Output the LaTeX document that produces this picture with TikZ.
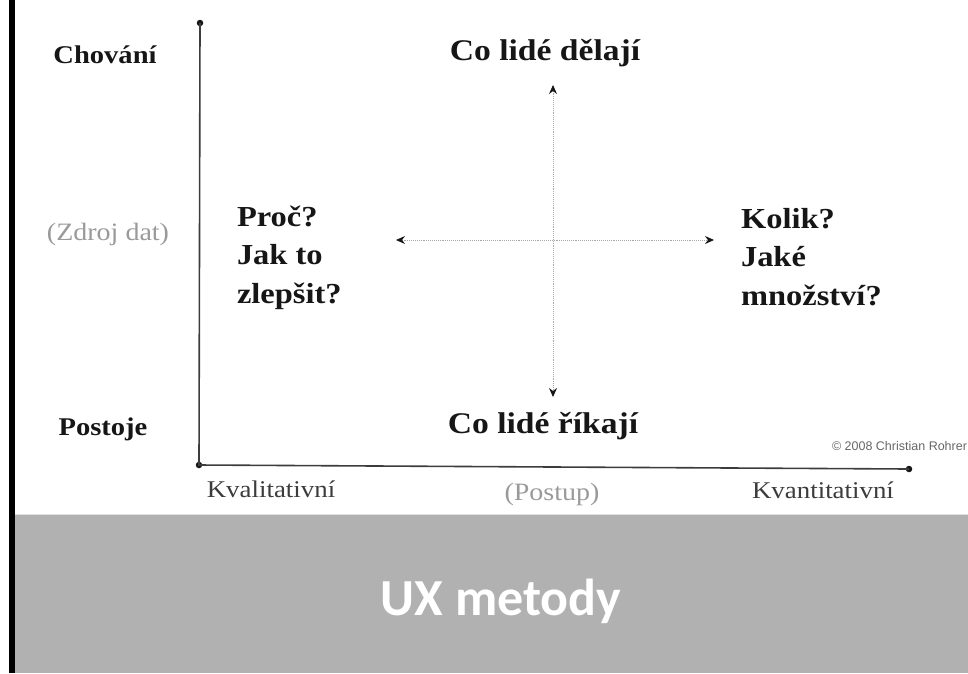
\documentclass[tikz,border=0pt]{standalone}
\usepackage{fontspec}
\setmainfont{Liberation Serif}[FakeStretch=1.12]
\newfontfamily\bannerfont{Carlito}
\newfontfamily\notefont{Liberation Sans}
\usetikzlibrary{arrows.meta}
\definecolor{inkdark}{HTML}{161616}
\definecolor{inkmid}{HTML}{3C3C3C}
\definecolor{inkmuted}{HTML}{9A9A9A}
\definecolor{bandgray}{HTML}{B1B1B1}
\definecolor{guidegray}{HTML}{A8A8A8}
\begin{document}
\begin{tikzpicture}[x=1pt,y=-1pt,
  every node/.style={inner sep=0pt, outer sep=0pt},
  quadrant/.style={font=\fontsize{30}{39}\selectfont\bfseries, text=inkdark},
  answer/.style={font=\fontsize{29}{38.5}\selectfont\bfseries, text=inkdark, align=left},
  rowlabel/.style={font=\fontsize{25.5}{30}\selectfont\bfseries, text=inkdark},
  mutedlabel/.style={font=\fontsize{25}{30}\selectfont, text=inkmuted},
  endlabel/.style={font=\fontsize{24}{30}\selectfont, text=inkmid},
  axisline/.style={line width=1.6pt, draw=inkmid},
  axisdot/.style={circle, fill=inkdark, minimum size=6.5pt},
  guide/.style={densely dotted, line width=0.9pt, draw=guidegray,
    {Stealth[length=9pt,width=8pt,inset=3pt,color=inkdark]}-{Stealth[length=9pt,width=8pt,inset=3pt,color=inkdark]}}
]
\useasboundingbox (0,0) rectangle (968,673);

% page edge bar and title band
\fill[black] (9,0) rectangle (15,673);
\fill[bandgray] (15,515) rectangle (968,673);
\draw[line width=1pt, draw=black!12] (15,514.5) -- (968,514.5);
\node[font=\fontsize{52}{60}\selectfont\bannerfont\bfseries, text=white, anchor=base]
  (title) at (501,615) {UX metody};

% axes
\node[axisdot] (top) at (200,23) {};
\node[axisdot] (origin) at (199,465) {};
\node[axisdot] (right) at (909,469) {};
\draw[axisline] (top.center) -- (origin.center) -- (right.center);

% vertical axis labels
\node[rowlabel, anchor=base] (behav) at (105,63) {Chování};
\node[mutedlabel, anchor=base] (source) at (108,240) {(Zdroj dat)};
\node[rowlabel, anchor=base] (attit) at (103,435) {Postoje};

% horizontal axis labels
\node[endlabel, anchor=base] (qual) at (271,497) {Kvalitativní};
\node[mutedlabel, anchor=base] (method) at (552,500) {(Postup)};
\node[endlabel, anchor=base] (quant) at (823,498) {Kvantitativní};

% quadrant headings
\node[quadrant, anchor=base] (does) at (545,60) {Co lidé dělají};
\node[quadrant, anchor=base] (says) at (543,433) {Co lidé říkají};
% multi-line nodes sit on the baseline of their last line
\node[answer, anchor=base west] (why) at (237,303) {Proč?\\Jak to\\zlepšit?};
\node[answer, anchor=base west] (howmany) at (741,305) {Kolik?\\Jaké\\množství?};

% dotted guides
\coordinate (gtop) at (553,85);
\coordinate (gbot) at (553,397);
\coordinate (gleft) at (396,240);
\coordinate (gright) at (714,240);
\draw[guide] (gtop) -- (gbot);
\draw[guide] (gleft) -- (gright);

% credit line
\node[font=\fontsize{12.5}{14}\selectfont\notefont, text=black!60, anchor=base west]
  (credit) at (832,450) {© 2008 Christian Rohrer};
\end{tikzpicture}
\end{document}
